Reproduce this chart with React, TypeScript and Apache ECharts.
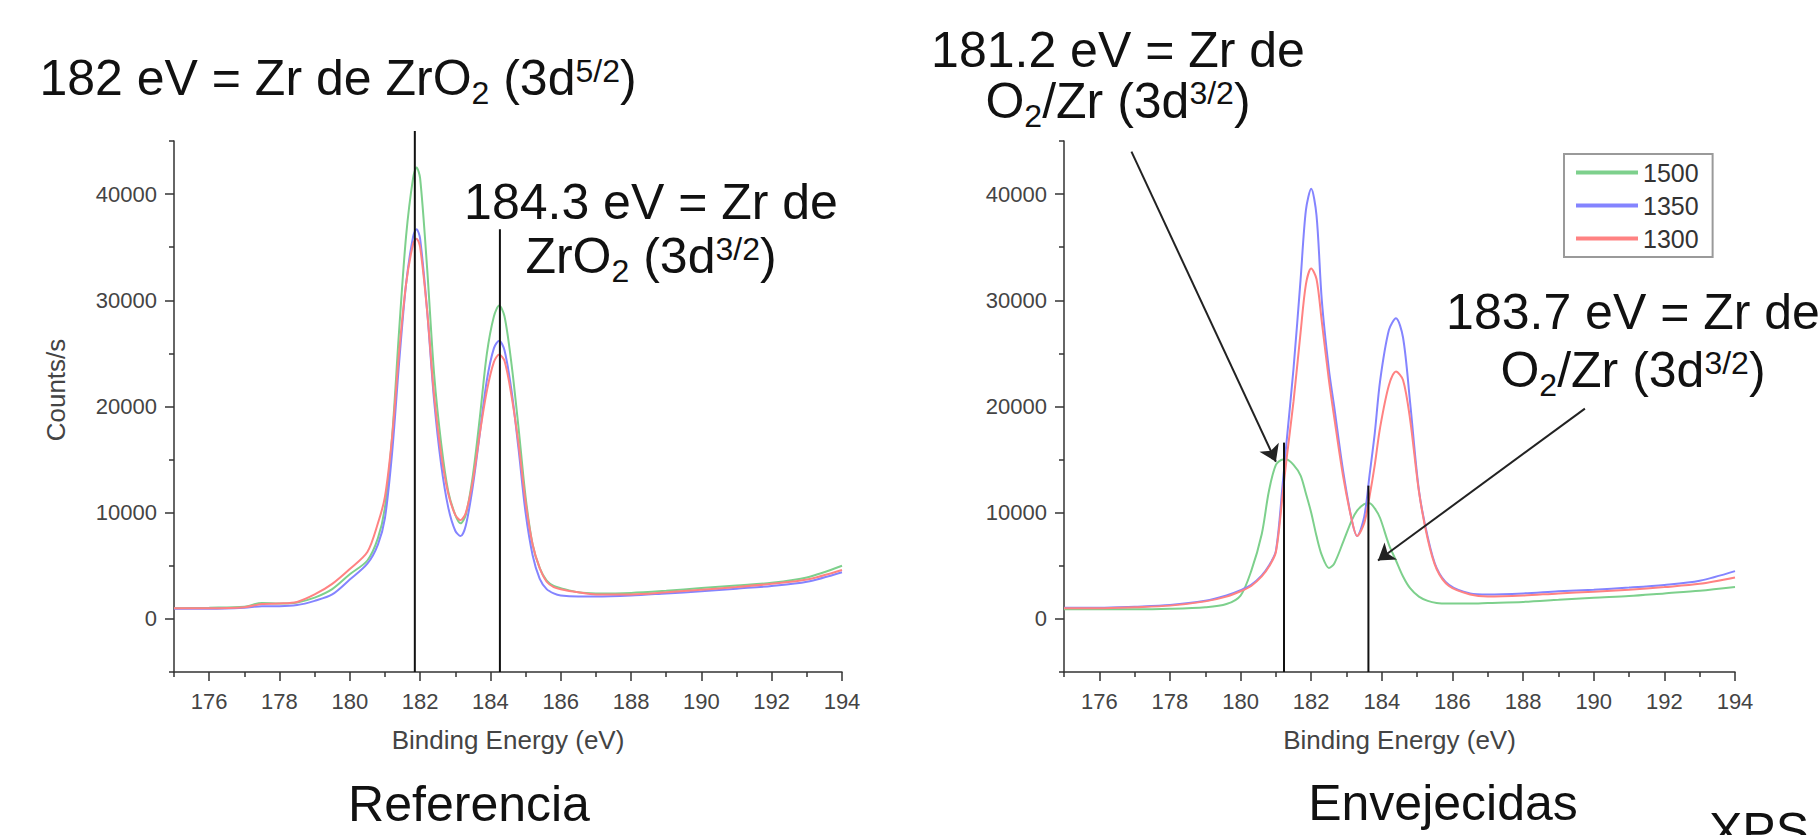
import React, { useEffect, useRef } from 'react';
import * as echarts from 'echarts';

const FONT = '"Liberation Sans", Arial, Helvetica, sans-serif';
const INK = '#111111';
const AXIS = '#333333';
const LABEL = '#444444';

const SERIES_NAMES = ['1500', '1350', '1300'];
const SERIES_COLORS = ['#7dd08c', '#8484ff', '#ff8282'];

const X_MIN = 175;
const X_MAX = 194;
const Y_MIN = -5000;
const Y_MAX = 45000;
const xMajorTicks = [176, 178, 180, 182, 184, 186, 188, 190, 192, 194];
const xMinorTicks = [175, 177, 179, 181, 183, 185, 187, 189, 191, 193];
const yMajorTicks = [0, 10000, 20000, 30000, 40000];
const yMinorTicks = [-5000, 5000, 15000, 25000, 35000, 45000];

// ---- Referencia (left) ----
const refX = [
  175, 176, 177, 177.5, 178, 178.5, 179, 179.5, 180, 180.5,
  180.8, 181, 181.2, 181.4, 181.6, 181.8, 181.9, 182, 182.2, 182.4,
  182.6, 182.8, 183, 183.15, 183.3, 183.5, 183.7, 183.9, 184.1, 184.25,
  184.4, 184.6, 184.8, 185, 185.2, 185.4, 185.6, 185.8, 186, 186.5,
  187, 188, 189, 190, 191, 192, 193, 194,
];
const ref1500 = [
  1000, 1050, 1150, 1500, 1450, 1550, 2000, 2800, 4200, 5500,
  7600, 10500, 17000, 27000, 36000, 41500, 42500, 41500, 33000, 23000,
  16500, 12000, 9800, 9000, 9800, 13500, 19000, 25000, 28500, 29500,
  28500, 24000, 18000, 11500, 7000, 4800, 3600, 3100, 2900, 2500,
  2400, 2450, 2650, 2900, 3150, 3400, 3900, 5000,
];
const ref1350 = [
  950, 950, 1050, 1200, 1200, 1300, 1700, 2300, 3700, 5200,
  7000, 9500, 15500, 24000, 31500, 36000, 36700, 35800, 29000, 20500,
  14500, 10500, 8300, 7800, 8800, 12500, 17500, 22500, 25500, 26200,
  25300, 21500, 16000, 10000, 6000, 3800, 2800, 2400, 2200, 2100,
  2100, 2200, 2400, 2600, 2850, 3100, 3500, 4400,
];
const ref1300 = [
  1000, 1000, 1100, 1400, 1450, 1600, 2300, 3300, 4700, 6300,
  9000, 11500, 17000, 25000, 31500, 35300, 35800, 35000, 29000, 21000,
  15500, 11800, 9800, 9300, 10000, 13000, 17500, 21500, 24200, 24900,
  24300, 21000, 16500, 11000, 7000, 4800, 3500, 3000, 2800, 2500,
  2300, 2300, 2500, 2750, 3000, 3300, 3700, 4600,
];

// ---- Envejecidas (right) ----
const agedX = [
  175, 176, 177, 178, 179, 179.6, 180, 180.3, 180.6, 180.8,
  181, 181.2, 181.3, 181.5, 181.7, 181.85, 182, 182.15, 182.3, 182.5,
  182.65, 182.9, 183.15, 183.3, 183.5, 183.65, 183.8, 183.95, 184.2, 184.4,
  184.6, 184.8, 185.05, 185.3, 185.55, 185.9, 186.5, 187, 188, 189,
  190, 191, 192, 193, 194,
];
const aged1500 = [
  900, 900, 900, 950, 1100, 1400, 2200, 4500, 8000, 12000,
  14500, 15000, 15000, 14500, 13500, 11800, 10000, 7800, 6000, 4800,
  5200, 7200, 9300, 10200, 10800, 10900, 10400, 9500, 7000, 5500,
  4000, 2900, 2100, 1700, 1500, 1450, 1450, 1500, 1600, 1800,
  2000, 2150, 2400, 2650, 3000,
];
const aged1350 = [
  1050, 1050, 1150, 1300, 1700, 2200, 2700, 3200, 4100, 5000,
  6400, 13000, 16600, 23600, 32000, 38500, 40500, 38000, 30000, 23500,
  20000, 14000, 9300, 7800, 9600, 13500, 17500, 22400, 27200, 28300,
  26500, 20400, 12100, 7700, 4800, 3200, 2400, 2300, 2400, 2600,
  2750, 2950, 3200, 3600, 4500,
];
const aged1300 = [
  1000, 1000, 1100, 1250, 1650, 2100, 2600, 3100, 4000, 4900,
  6300, 12000, 15000, 20500, 27000, 31500, 33000, 32000, 28000, 22500,
  19000, 13500, 9300, 7800, 9000, 11500, 14500, 18000, 22000, 23300,
  22500, 18800, 12000, 7500, 4700, 3100, 2300, 2100, 2200, 2400,
  2550, 2750, 3000, 3300, 3900,
];

// peak marker lines and arrows
const refPeakLinesX = [181.85, 184.27];
const refPeakLinesTop = [45950, 36700];
const agedPeakLinesX = [181.23, 183.62];
const agedPeakLinesTop = [16600, 12550];
const agedArrowStart = [[176.91, 44000], [189.75, 19800]];
const agedArrowEnd = [[181.0, 14800], [183.89, 5500]];

const GRIDS = [
  { left: 174, top: 141, width: 668, height: 531 },
  { left: 1064, top: 141, width: 671, height: 531 },
];

function richFor(L: number) {
  return {
    a: { fontSize: 50, fontFamily: FONT, fill: INK, lineHeight: L, align: 'center' },
    sub: { fontSize: 32, fontFamily: FONT, fill: INK, lineHeight: L, verticalAlign: 'bottom', height: L - 30, align: 'center' },
    sup: { fontSize: 32, fontFamily: FONT, fill: INK, lineHeight: L, verticalAlign: 'top', height: L - 15, align: 'center' },
  };
}

function richText(text: string, x: number, y: number, L: number) {
  return {
    type: 'text',
    x,
    y,
    silent: true,
    style: {
      text,
      fontSize: 50,
      fontFamily: FONT,
      fill: INK,
      align: 'center',
      textAlign: 'center',
      verticalAlign: 'top',
      textVerticalAlign: 'top',
      lineHeight: L,
      rich: richFor(L),
    },
  };
}

const plainNumber = (v: number) => String(v);

function majorX(gi: number) {
  return {
    type: 'value', gridIndex: gi, min: X_MIN, max: X_MAX, position: 'bottom',
    axisLine: { show: true, onZero: false, lineStyle: { color: AXIS, width: 1.5 } },
    axisTick: { show: true, inside: false, length: 9, customValues: xMajorTicks, lineStyle: { color: AXIS, width: 1.5 } },
    axisLabel: { show: true, customValues: xMajorTicks, formatter: plainNumber, margin: 18, fontSize: 22, color: LABEL, fontFamily: FONT },
    splitLine: { show: false },
    name: 'Binding Energy (eV)', nameLocation: 'middle', nameGap: 55,
    nameTextStyle: { fontSize: 26, color: LABEL, fontFamily: FONT },
  };
}
function minorX(gi: number) {
  return {
    type: 'value', gridIndex: gi, min: X_MIN, max: X_MAX, position: 'bottom',
    axisLine: { show: false, onZero: false },
    axisTick: { show: true, inside: false, length: 5, customValues: xMinorTicks, lineStyle: { color: AXIS, width: 1.5 } },
    axisLabel: { show: false },
    splitLine: { show: false },
  };
}
function majorY(gi: number) {
  return {
    type: 'value', gridIndex: gi, min: Y_MIN, max: Y_MAX, position: 'left',
    axisLine: { show: true, onZero: false, lineStyle: { color: AXIS, width: 1.5 } },
    axisTick: { show: true, inside: false, length: 9, customValues: yMajorTicks, lineStyle: { color: AXIS, width: 1.5 } },
    axisLabel: { show: true, customValues: yMajorTicks, formatter: plainNumber, margin: 17, fontSize: 22, color: LABEL, fontFamily: FONT },
    splitLine: { show: false },
  };
}
function minorY(gi: number) {
  return {
    type: 'value', gridIndex: gi, min: Y_MIN, max: Y_MAX, position: 'left',
    axisLine: { show: false, onZero: false },
    axisTick: { show: true, inside: false, length: 5, customValues: yMinorTicks, lineStyle: { color: AXIS, width: 1.5 } },
    axisLabel: { show: false },
    splitLine: { show: false },
  };
}

function curve(name: string, color: string, xs: number[], ys: number[], axis: number) {
  return {
    type: 'line',
    name,
    xAxisIndex: axis,
    yAxisIndex: axis,
    data: xs.map((x, i) => [x, ys[i]]),
    symbol: 'none',
    showSymbol: false,
    smooth: 0.3,
    silent: true,
    lineStyle: { color, width: 2 },
    itemStyle: { color },
    z: 2,
  };
}

function peakLine(x: number, top: number, axis: number, extra?: any) {
  return {
    type: 'line',
    name: 'peak-' + x,
    xAxisIndex: axis,
    yAxisIndex: axis,
    data: [[x, Y_MIN], [x, top]],
    symbol: 'none',
    showSymbol: false,
    clip: false,
    silent: true,
    lineStyle: { color: INK, width: 2 },
    itemStyle: { color: INK },
    z: 5,
    ...(extra || {}),
  };
}

function buildOption() {
  const refSeries = [ref1500, ref1350, ref1300].map((ys, i) => curve(SERIES_NAMES[i], SERIES_COLORS[i], refX, ys, 0));
  const agedSeries = [aged1500, aged1350, aged1300].map((ys, i) => curve(SERIES_NAMES[i], SERIES_COLORS[i], agedX, ys, 2));
  const refLines = refPeakLinesX.map((x, i) => peakLine(x, refPeakLinesTop[i], 0));
  const agedLines = agedPeakLinesX.map((x, i) =>
    peakLine(x, agedPeakLinesTop[i], 2, i === 0 ? {
      markLine: {
        silent: true,
        animation: false,
        symbol: ['none', 'arrow'],
        symbolSize: 16,
        label: { show: false },
        itemStyle: { color: '#222' },
        lineStyle: { color: '#222', width: 2, type: 'solid' },
        emphasis: { disabled: true },
        data: agedArrowStart.map((s, k) => [{ coord: s }, { coord: agedArrowEnd[k] }]),
      },
    } : undefined)
  );

  return {
    animation: false,
    backgroundColor: '#ffffff',
    textStyle: { fontFamily: FONT },
    grid: GRIDS.map((g) => ({ ...g, containLabel: false, outerBoundsMode: 'none' })),
    xAxis: [majorX(0), minorX(0), majorX(1), minorX(1)],
    yAxis: [majorY(0), minorY(0), majorY(1), minorY(1)],
    legend: {
      data: SERIES_NAMES,
      orient: 'vertical',
      left: 1564,
      top: 154,
      itemWidth: 62,
      itemHeight: 4,
      itemGap: 8,
      icon: 'rect',
      padding: [6, 14, 6, 12],
      borderColor: '#9a9a9a',
      borderWidth: 2,
      backgroundColor: '#ffffff',
      selectedMode: false,
      textStyle: { fontSize: 25, color: '#333', fontFamily: FONT },
    },
    series: [...refSeries, ...agedSeries, ...refLines, ...agedLines],
    graphic: [
      richText('{a|182 eV = Zr de ZrO}{sub|2}{a|\u00a0(3d}{sup|5/2}{a|)}', 338, 50, 56),
      richText('{a|184.3 eV = Zr de}\n{a|ZrO}{sub|2}{a|\u00a0(3d}{sup|3/2}{a|)}', 651, 175, 54),
      richText('{a|181.2 eV = Zr de}\n{a|O}{sub|2}{a|/Zr\u00a0(3d}{sup|3/2}{a|)}', 1118, 24, 51),
      richText('{a|183.7 eV = Zr de}\n{a|O}{sub|2}{a|/Zr\u00a0(3d}{sup|3/2}{a|)}', 1633, 283, 58),
      {
        type: 'text', x: 56, y: 390, rotation: Math.PI / 2, silent: true,
        style: { text: 'Counts/s', fontSize: 26, fontFamily: FONT, fill: LABEL, align: 'center', textAlign: 'center', verticalAlign: 'middle', textVerticalAlign: 'middle' },
      },
      {
        type: 'text', x: 469, y: 829, silent: true,
        style: { text: 'Referencia', fontSize: 50, fontFamily: FONT, fill: INK, align: 'center', textAlign: 'center', verticalAlign: 'bottom', textVerticalAlign: 'bottom' },
      },
      {
        type: 'text', x: 1443, y: 828, silent: true,
        style: { text: 'Envejecidas', fontSize: 50, fontFamily: FONT, fill: INK, align: 'center', textAlign: 'center', verticalAlign: 'bottom', textVerticalAlign: 'bottom' },
      },
      {
        type: 'text', x: 1709, y: 856, silent: true,
        style: { text: 'XPS', fontSize: 50, fontFamily: FONT, fill: INK, align: 'left', textAlign: 'left', verticalAlign: 'bottom', textVerticalAlign: 'bottom' },
      },
    ],
  };
}

export default function App() {
  const ref = useRef<HTMLDivElement | null>(null);
  useEffect(() => {
    if (!ref.current) return;
    const chart = echarts.init(ref.current, undefined, { renderer: 'svg' });
    chart.setOption(buildOption() as any);
    return () => {
      chart.dispose();
    };
  }, []);
  return (
    <div
      ref={ref}
      style={{ position: 'fixed', left: 0, top: 0, width: 1819, height: 835, background: '#ffffff', overflow: 'hidden' }}
    />
  );
}
